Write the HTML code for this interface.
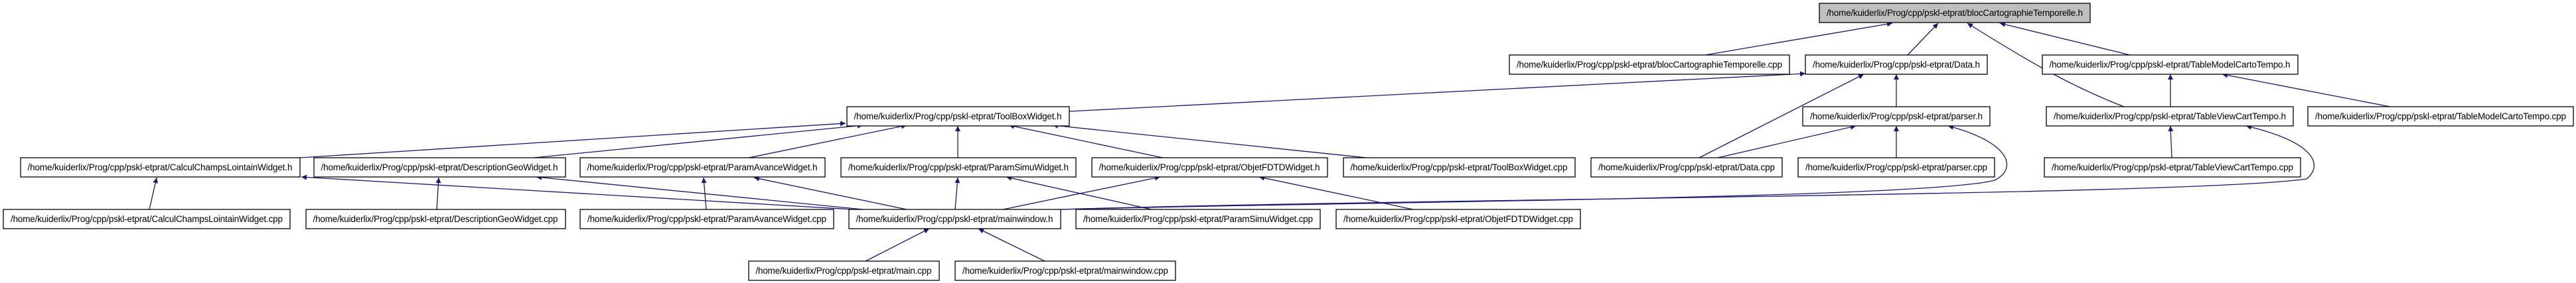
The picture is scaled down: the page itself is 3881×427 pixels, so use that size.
<!DOCTYPE html>
<html><head><meta charset="utf-8"><style>
html,body{margin:0;padding:0;background:#fff;}
svg{display:block;}
text{font-family:"Liberation Sans",sans-serif;font-size:13.5px;fill:#000;}
</style></head><body>
<svg width="3881" height="427" viewBox="0 0 3881 427" xmlns="http://www.w3.org/2000/svg">
<defs>
<marker id="a" viewBox="0 0 10 10" refX="10" refY="5" markerWidth="10" markerHeight="8" markerUnits="userSpaceOnUse" orient="auto">
<path d="M0,0 L10,5 L0,10 z" fill="#191970"/>
</marker>
</defs>
<g fill="none" stroke="#191970" stroke-width="1.3" marker-end="url(#a)">
<!-- root edges -->
<line x1="2569" y1="83" x2="2851" y2="35"/>
<line x1="2874" y1="83" x2="2920" y2="35"/>
<path d="M3200,161 C3120,130 3060,95 2964,35"/>
<line x1="3209" y1="83" x2="3013" y2="35"/>
<!-- Data.h -->
<line x1="1611" y1="168" x2="2720" y2="111"/>
<line x1="2560" y1="238" x2="2808" y2="112"/>
<line x1="2857" y1="161" x2="2857" y2="112"/>
<!-- parser.h -->
<line x1="2588" y1="238" x2="2796" y2="190"/>
<line x1="2857" y1="238" x2="2857" y2="190"/>
<path d="M1598,316 C2000,305 2900,300 3005,272 C3040,255 3030,215 2935,190"/>
<!-- TableModelCartoTempo.h -->
<line x1="3270" y1="161" x2="3270" y2="112"/>
<line x1="3601" y1="161" x2="3348" y2="112"/>
<!-- TableViewCartTempo.h -->
<line x1="3272" y1="238" x2="3270" y2="190"/>
<path d="M1598,316 C2100,300 3300,295 3475,270 C3500,250 3490,215 3384,190"/>
<!-- ToolBoxWidget.h -->
<line x1="452" y1="238" x2="1274" y2="186"/>
<line x1="804" y1="238" x2="1300" y2="189"/>
<line x1="1128" y1="238" x2="1366" y2="189"/>
<line x1="1443" y1="238" x2="1443" y2="190"/>
<line x1="1752" y1="238" x2="1520" y2="189"/>
<line x1="2059" y1="238" x2="1586" y2="189"/>
<!-- row4 to row5 -->
<line x1="225" y1="316" x2="236" y2="268"/>
<line x1="1285" y1="316" x2="454" y2="267"/>
<line x1="658" y1="316" x2="661" y2="268"/>
<line x1="1300" y1="316" x2="808" y2="267"/>
<line x1="1064" y1="316" x2="1060" y2="268"/>
<line x1="1366" y1="316" x2="1136" y2="268"/>
<line x1="1439" y1="316" x2="1443" y2="268"/>
<line x1="1735" y1="316" x2="1516" y2="267"/>
<line x1="1511" y1="316" x2="1748" y2="267"/>
<line x1="2129" y1="316" x2="1897" y2="267"/>
<!-- mainwindow.h -->
<line x1="1304" y1="394" x2="1400" y2="345"/>
<line x1="1574" y1="394" x2="1474" y2="345"/>
</g>
<g stroke="#000" stroke-width="1.3">
<rect x="2741" y="5" width="408" height="29" fill="#bfbfbf"/>
<rect x="2274" y="83" width="422" height="29" fill="#fff"/>
<rect x="2720" y="83" width="274" height="29" fill="#fff"/>
<rect x="3077" y="83" width="385" height="29" fill="#fff"/>
<rect x="1276" y="161" width="335" height="29" fill="#fff"/>
<rect x="2716" y="161" width="282" height="29" fill="#fff"/>
<rect x="3083" y="161" width="372" height="29" fill="#fff"/>
<rect x="3477" y="161" width="400" height="29" fill="#fff"/>
<rect x="31" y="238" width="421" height="29" fill="#fff"/>
<rect x="473" y="238" width="379" height="29" fill="#fff"/>
<rect x="874" y="238" width="369" height="29" fill="#fff"/>
<rect x="1267" y="238" width="354" height="29" fill="#fff"/>
<rect x="1645" y="238" width="355" height="29" fill="#fff"/>
<rect x="2024" y="238" width="349" height="29" fill="#fff"/>
<rect x="2397" y="238" width="288" height="29" fill="#fff"/>
<rect x="2709" y="238" width="296" height="29" fill="#fff"/>
<rect x="3080" y="238" width="386" height="29" fill="#fff"/>
<rect x="5" y="316" width="432" height="29" fill="#fff"/>
<rect x="461" y="316" width="391" height="29" fill="#fff"/>
<rect x="874" y="316" width="382" height="29" fill="#fff"/>
<rect x="1279" y="316" width="319" height="29" fill="#fff"/>
<rect x="1621" y="316" width="368" height="29" fill="#fff"/>
<rect x="2013" y="316" width="368" height="29" fill="#fff"/>
<rect x="1128" y="394" width="287" height="29" fill="#fff"/>
<rect x="1439" y="394" width="332" height="29" fill="#fff"/>
</g>
<g text-anchor="middle" lengthAdjust="spacingAndGlyphs">
<text x="2945" y="24" textLength="386">/home/kuiderlix/Prog/cpp/pskl-etprat/blocCartographieTemporelle.h</text>
<text x="2485" y="102" textLength="400">/home/kuiderlix/Prog/cpp/pskl-etprat/blocCartographieTemporelle.cpp</text>
<text x="2857" y="102" textLength="252">/home/kuiderlix/Prog/cpp/pskl-etprat/Data.h</text>
<text x="3269" y="102" textLength="363">/home/kuiderlix/Prog/cpp/pskl-etprat/TableModelCartoTempo.h</text>
<text x="1443" y="180" textLength="313">/home/kuiderlix/Prog/cpp/pskl-etprat/ToolBoxWidget.h</text>
<text x="2857" y="180" textLength="260">/home/kuiderlix/Prog/cpp/pskl-etprat/parser.h</text>
<text x="3269" y="180" textLength="350">/home/kuiderlix/Prog/cpp/pskl-etprat/TableViewCartTempo.h</text>
<text x="3677" y="180" textLength="378">/home/kuiderlix/Prog/cpp/pskl-etprat/TableModelCartoTempo.cpp</text>
<text x="241" y="257" textLength="399">/home/kuiderlix/Prog/cpp/pskl-etprat/CalculChampsLointainWidget.h</text>
<text x="662" y="257" textLength="357">/home/kuiderlix/Prog/cpp/pskl-etprat/DescriptionGeoWidget.h</text>
<text x="1058" y="257" textLength="347">/home/kuiderlix/Prog/cpp/pskl-etprat/ParamAvanceWidget.h</text>
<text x="1444" y="257" textLength="332">/home/kuiderlix/Prog/cpp/pskl-etprat/ParamSimuWidget.h</text>
<text x="1822" y="257" textLength="333">/home/kuiderlix/Prog/cpp/pskl-etprat/ObjetFDTDWidget.h</text>
<text x="2198" y="257" textLength="327">/home/kuiderlix/Prog/cpp/pskl-etprat/ToolBoxWidget.cpp</text>
<text x="2541" y="257" textLength="266">/home/kuiderlix/Prog/cpp/pskl-etprat/Data.cpp</text>
<text x="2857" y="257" textLength="274">/home/kuiderlix/Prog/cpp/pskl-etprat/parser.cpp</text>
<text x="3273" y="257" textLength="364">/home/kuiderlix/Prog/cpp/pskl-etprat/TableViewCartTempo.cpp</text>
<text x="221" y="335" textLength="410">/home/kuiderlix/Prog/cpp/pskl-etprat/CalculChampsLointainWidget.cpp</text>
<text x="656" y="335" textLength="369">/home/kuiderlix/Prog/cpp/pskl-etprat/DescriptionGeoWidget.cpp</text>
<text x="1065" y="335" textLength="360">/home/kuiderlix/Prog/cpp/pskl-etprat/ParamAvanceWidget.cpp</text>
<text x="1438" y="335" textLength="297">/home/kuiderlix/Prog/cpp/pskl-etprat/mainwindow.h</text>
<text x="1805" y="335" textLength="346">/home/kuiderlix/Prog/cpp/pskl-etprat/ParamSimuWidget.cpp</text>
<text x="2197" y="335" textLength="346">/home/kuiderlix/Prog/cpp/pskl-etprat/ObjetFDTDWidget.cpp</text>
<text x="1271" y="413" textLength="265">/home/kuiderlix/Prog/cpp/pskl-etprat/main.cpp</text>
<text x="1605" y="413" textLength="310">/home/kuiderlix/Prog/cpp/pskl-etprat/mainwindow.cpp</text>
</g>
</svg>
</body></html>
